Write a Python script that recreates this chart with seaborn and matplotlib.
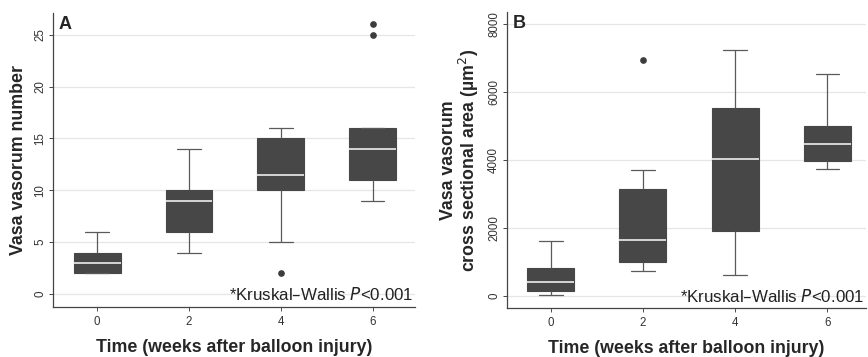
import numpy as np
import pandas as pd
import matplotlib
matplotlib.use("Agg")
import matplotlib.pyplot as plt
import seaborn as sns

# ---- data ----
times = ["0", "2", "4", "6"]

# Panel A: vasa vasorum number
a_lo = [2, 4, 5, 9]
a_q1 = [2, 6, 10, 11]
a_med = [3, 9, 11.5, 14]
a_q3 = [4, 10, 15, 16]
a_hi = [6, 14, 16, 16]
a_out = [[], [], [2], [25, 26]]

# Panel B: vasa vasorum cross sectional area (um^2)
b_lo = [30, 750, 620, 3735]
b_q1 = [140, 995, 1925, 3960]
b_med = [410, 1660, 4040, 4470]
b_q3 = [815, 3135, 5520, 5010]
b_hi = [1610, 3695, 7240, 6535]
b_out = [[], [6940], [], []]

a_yticks = [0, 5, 10, 15, 20, 25]
b_yticks = [0, 2000, 4000, 6000, 8000]
annot = "*Kruskal\u2013Wallis $\\it{P}$<0.001"


def build(lo, q1, med, q3, hi, outs):
    rows = []
    for t, l, a, m, b, h, o in zip(times, lo, q1, med, q3, hi, outs):
        vals = [l] + [a] * 10 + [m] * 10 + [b] * 10 + [h] + list(o)
        rows += [(t, v) for v in vals]
    return pd.DataFrame(rows, columns=["time", "value"])


dfa = build(a_lo, a_q1, a_med, a_q3, a_hi, a_out)
dfb = build(b_lo, b_q1, b_med, b_q3, b_hi, b_out)

sns.set_theme(style="white")
plt.rcParams["font.family"] = ["Liberation Sans", "DejaVu Sans"]

fig = plt.figure(figsize=(8.68, 3.57), dpi=100)
W, H = 868, 357
axA = fig.add_axes([53 / W, 1 - 307 / H, (415 - 53) / W, (307 - 13) / H])
axB = fig.add_axes([507 / W, 1 - 308 / H, (866 - 507) / W, (308 - 12) / H])

box_c = "#474747"
med_c = "#d6d6d6"
line_c = "#5a5a5a"

for ax, df, yt, ylim, xlim, ylabel, letter in [
    (axA, dfa, a_yticks, (-1.25, 27.1), (-0.48, 3.46), "Vasa vasorum number", "A"),
    (axB, dfb, b_yticks, (-350, 8350), (-0.475, 3.42),
     "Vasa vasorum\ncross sectional area (\u00b5m$^2$)", "B"),
]:
    for y in yt:
        ax.axhline(y, color="#e6e6e6", lw=0.9, zorder=0)
    sns.boxplot(data=df, x="time", y="value", order=times, ax=ax,
                color=box_c, width=0.51, whis=1.5,
                boxprops=dict(facecolor=box_c, edgecolor=box_c, linewidth=0.8),
                medianprops=dict(color=med_c, linewidth=1.4),
                whiskerprops=dict(color=line_c, linewidth=0.9),
                capprops=dict(color=line_c, linewidth=0.9),
                flierprops=dict(marker="o", markersize=3.8, markerfacecolor="#3c3c3c",
                                markeredgecolor="#3c3c3c"))
    ax.set_xlim(*xlim)
    ax.set_ylim(*ylim)
    ax.set_yticks(yt)
    ax.set_yticklabels([str(v) for v in yt], rotation=90, va="center",
                       fontsize=8.3, color="#333333")
    ax.tick_params(axis="x", labelsize=8.3, colors="#333333", length=3, width=0.6)
    ax.tick_params(axis="y", length=3, width=0.6, pad=2)
    ax.tick_params(axis="both", which="both", bottom=True, left=True)
    for s in ["top", "right"]:
        ax.spines[s].set_visible(False)
    for s in ["left", "bottom"]:
        ax.spines[s].set_color("#444444")
        ax.spines[s].set_linewidth(0.9)
    ax.grid(False)
    ax.set_xlabel("Time (weeks after balloon injury)", fontsize=12.8, fontweight="bold",
                  labelpad=8)
    ax.set_ylabel(ylabel, fontsize=12.8, fontweight="bold", labelpad=5,
                  linespacing=1.0)
    ax.text(0.015, 0.99, letter, transform=ax.transAxes, fontsize=13,
            fontweight="bold", va="top", ha="left")
    ax.text(0.995, yt[0], annot, transform=ax.get_yaxis_transform(),
            ha="right", va="center", fontsize=12.2, color="#222222")

fig.savefig("out.png", dpi=100)
